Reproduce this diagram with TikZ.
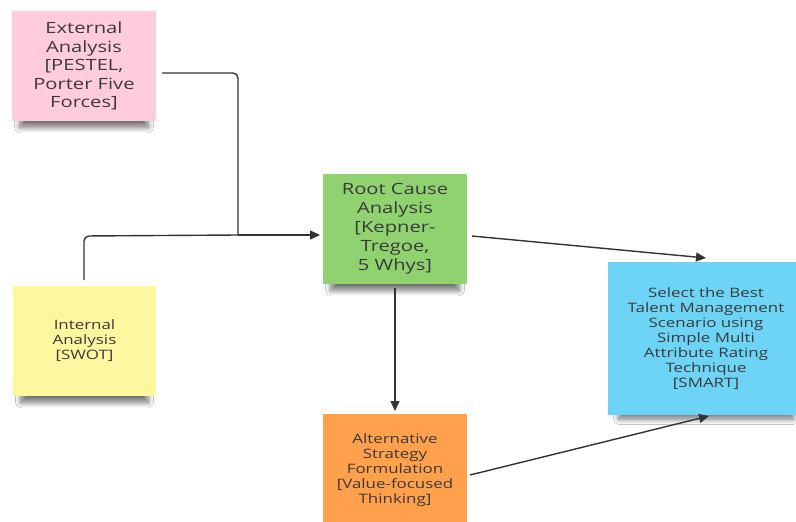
\documentclass[tikz,border=0pt]{standalone}
\usepackage{fontspec}
\setmainfont{Open Sans}[FakeStretch=1.3]
\usetikzlibrary{arrows.meta,shadows.blur}
\definecolor{cpink}{HTML}{FFCCDC}
\definecolor{cyellow}{HTML}{FFF6A0}
\definecolor{cgreen}{HTML}{8FD26F}
\definecolor{corange}{HTML}{FFA04C}
\definecolor{cblue}{HTML}{6DD4F6}
\definecolor{ctext}{HTML}{3A3A3A}
\definecolor{cline}{HTML}{333333}
\tikzset{
  note/.style={draw=none, inner sep=0pt, align=center, text=ctext,
    blur shadow={shadow xshift=0pt, shadow yshift=-14pt, shadow blur steps=12, shadow blur radius=6pt, shadow scale=0.89, shadow opacity=55}},
  bigtext/.style={font=\fontsize{15.5}{18.5}\selectfont},
  smalltext/.style={font=\fontsize{13}{15}\selectfont},
  conn/.style={draw=cline, line width=1.4pt, rounded corners=5pt},
  arr/.style={conn, -{Triangle[length=10pt,width=9pt]}}
}
\begin{document}
\begin{tikzpicture}[x=1pt,y=-1pt]
\useasboundingbox[fill=white] (0,0) rectangle (796,522);
\node[note, fill=cpink, minimum width=144pt, minimum height=110pt, bigtext] (ext) at (84,66)
  {External\\Analysis\\{[PESTEL,}\\Porter Five\\Forces]};
\node[note, fill=cyellow, minimum width=143pt, minimum height=110pt, smalltext] (int) at (84.5,341)
  {Internal\\Analysis\\{[SWOT]}};
\node[note, fill=cgreen, minimum width=144pt, minimum height=110pt,
  font=\fontsize{15.5}{19}\selectfont] (root) at (395,229)
  {Root Cause\\Analysis\\{[Kepner-}\\Tregoe,\\5 Whys]};
\begin{scope}
\clip (0,0) rectangle (796,522);
\node[note, fill=corange, minimum width=144pt, minimum height=112pt, smalltext] (alt) at (395,470)
  {Alternative\\Strategy\\Formulation\\{[Value-focused}\\Thinking]};
\node[note, fill=cblue, minimum width=196pt, minimum height=153pt, smalltext] (sel) at (706,338.5)
  {Select the Best\\Talent Management\\Scenario using\\Simple Multi\\Attribute Rating\\Technique\\{[SMART]}};
\end{scope}
\coordinate (j) at (238,235);
\coordinate (e1) at (162,73);
\coordinate (i1) at (84,280);
\draw[conn] (e1) -- (238,73) -- (j);
\draw[arr] (j) -- (320,235);
\draw[conn] (i1) -- (84,236) -- (j);
\coordinate (r1) at (472,236);
\coordinate (s1) at (706,258);
\draw[arr] (r1) -- (s1);
\coordinate (r2) at (395,288);
\coordinate (a1) at (395,411);
\draw[arr] (r2) -- (a1);
\coordinate (a2) at (470,475);
\coordinate (s2) at (709,416);
\draw[arr] (a2) -- (s2);
\end{tikzpicture}
\end{document}
